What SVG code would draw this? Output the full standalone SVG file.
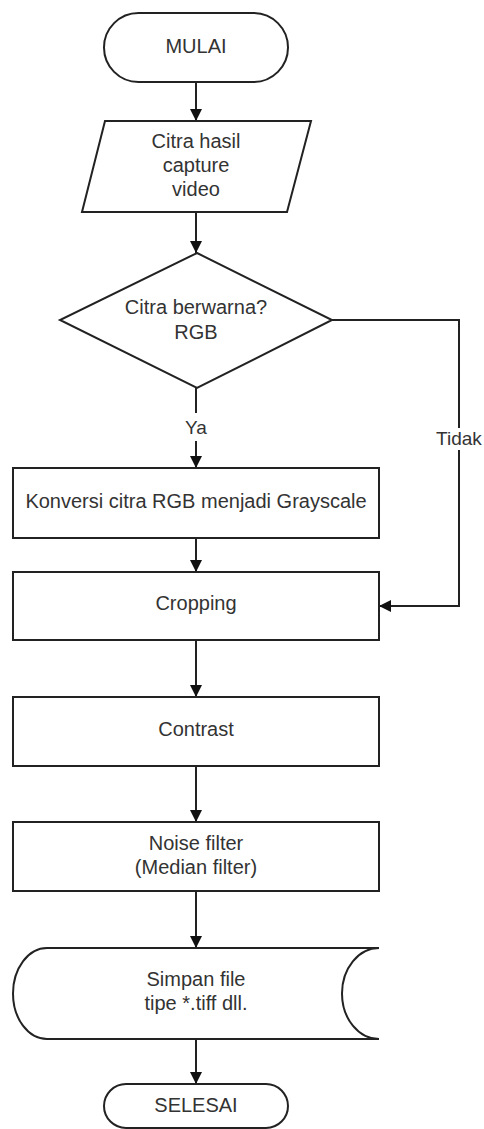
<svg xmlns="http://www.w3.org/2000/svg" width="484" height="1129" viewBox="0 0 484 1129">
<style>
.s{fill:#fff;stroke:#222;stroke-width:2}
.c{fill:none;stroke:#222;stroke-width:2}
text{font-family:"Liberation Sans",Arial,sans-serif;font-size:20px;fill:#333;text-anchor:middle;dominant-baseline:central}
.sm{font-size:19px}
</style>
<defs>
<marker id="ah" viewBox="0 0 12 12" refX="12" refY="6" markerWidth="12" markerHeight="12" markerUnits="userSpaceOnUse" orient="auto">
<path d="M0,0 L12,6 L0,12 Z" fill="#111"/>
</marker>
</defs>
<rect width="484" height="1129" fill="#fff"/>
<g id="connectors">
<line class="c" x1="196" y1="82" x2="196" y2="121" marker-end="url(#ah)"/>
<line class="c" x1="196" y1="212" x2="196" y2="253" marker-end="url(#ah)"/>
<line class="c" x1="196" y1="388" x2="196" y2="413"/>
<line class="c" x1="196" y1="441" x2="196" y2="468" marker-end="url(#ah)"/>
<text class="sm" x="196" y="427">Ya</text>
<polyline class="c" points="332,320 459,320 459,428"/>
<polyline class="c" points="459,450 459,606 379,606" marker-end="url(#ah)"/>
<text class="sm" x="459" y="438">Tidak</text>
<line class="c" x1="196" y1="538" x2="196" y2="572" marker-end="url(#ah)"/>
<line class="c" x1="196" y1="640" x2="196" y2="697" marker-end="url(#ah)"/>
<line class="c" x1="196" y1="766" x2="196" y2="822" marker-end="url(#ah)"/>
<line class="c" x1="196" y1="891" x2="196" y2="948" marker-end="url(#ah)"/>
<line class="c" x1="196" y1="1039" x2="196" y2="1084" marker-end="url(#ah)"/>
</g>
<g id="mulai">
<rect class="s" x="104" y="13" width="184" height="69" rx="34.5"/>
<text x="196" y="46">MULAI</text>
</g>
<g id="input">
<polygon class="s" points="105,121 311,121 287,212 82,212"/>
<text x="196" y="141">Citra hasil</text>
<text x="196" y="165">capture</text>
<text x="196" y="189">video</text>
</g>
<g id="decision">
<polygon class="s" points="197,253 332,320 197,388 60,320"/>
<text x="196" y="307">Citra berwarna?</text>
<text x="196" y="332">RGB</text>
</g>
<g id="konversi">
<rect class="s" x="13" y="468" width="366" height="70"/>
<text x="196" y="501">Konversi citra RGB menjadi Grayscale</text>
</g>
<g id="cropping">
<rect class="s" x="13" y="572" width="366" height="68"/>
<text x="196" y="603">Cropping</text>
</g>
<g id="contrast">
<rect class="s" x="13" y="697" width="366" height="69"/>
<text x="196" y="729">Contrast</text>
</g>
<g id="noise">
<rect class="s" x="13" y="822" width="366" height="69"/>
<text x="196" y="843">Noise filter</text>
<text x="196" y="867">(Median filter)</text>
</g>
<g id="simpan">
<path class="s" d="M47,948 L379,948 A37,45.5 0 0 0 379,1039 L47,1039 A34,45.5 0 0 1 47,948 Z"/>
<text x="196" y="979">Simpan file</text>
<text x="196" y="1003">tipe *.tiff dll.</text>
</g>
<g id="selesai">
<rect class="s" x="104" y="1084" width="184" height="44" rx="22"/>
<text x="196" y="1105">SELESAI</text>
</g>
</svg>
